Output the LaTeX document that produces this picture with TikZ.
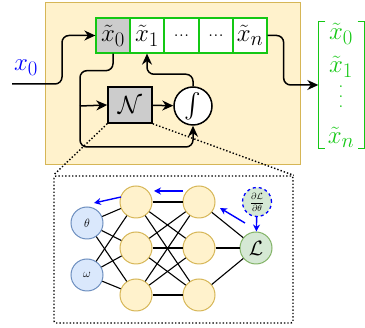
\documentclass[tikz,border=0pt]{standalone}
\usepackage{amsmath}
\usepackage{amssymb}
\usetikzlibrary{arrows.meta}
\definecolor{boxfill}{RGB}{255,242,204}
\definecolor{boxline}{RGB}{214,182,86}
\definecolor{inblue}{RGB}{218,232,252}
\definecolor{inblueline}{RGB}{108,142,191}
\definecolor{lossfill}{RGB}{213,232,212}
\definecolor{lossline}{RGB}{130,179,102}
\definecolor{cellgreen}{RGB}{20,200,20}
\newcommand{\tallvdots}{\vbox{\baselineskip=10pt\lineskiplimit=0pt\hbox{.}\hbox{.}\hbox{.}}}
\tikzset{
  cell/.style={draw=cellgreen, line width=1.3pt, fill=white, minimum width=34pt,
    minimum height=35pt, inner sep=0pt, font=\Huge},
  flow/.style={line width=1.5pt, -{Stealth[length=11pt,width=10pt]}, rounded corners=7pt},
  neuron/.style={circle, draw=boxline, fill=boxfill, line width=1pt, minimum size=32pt, inner sep=0pt},
  inneuron/.style={neuron, draw=inblueline, fill=inblue, font=\large},
  grad/.style={blue, line width=1.4pt, -{Stealth[length=7pt,width=7pt]}},
  wire/.style={line width=1.1pt},
  vecentry/.style={text=cellgreen, font=\Huge, inner sep=0pt}
}
\begin{document}
\begin{tikzpicture}[x=1pt,y=-1pt]
\useasboundingbox (0,0) rectangle (365,328);
% solver block
\node[draw=boxline, fill=boxfill, line width=1pt, minimum width=255pt, minimum height=162pt] (solver) at (173,84) {};
\node[cell, fill=black!20] (c0) at (113,35.5) {$\tilde{x}_0$};
\node[cell] (c1) at (147,35.5) {$\tilde{x}_1$};
\node[cell, font=\huge] (c2) at (181.5,35.5) {...};
\node[cell, font=\huge] (c3) at (216,35.5) {...};
\node[cell] (cn) at (250,35.5) {$\tilde{x}_n$};
\node[draw, fill=black!20, line width=1.5pt, minimum width=44pt, minimum height=36pt, font=\Huge] (nn) at (130,105) {$\mathcal{N}$};
\node[circle, draw, fill=white, line width=1.5pt, minimum size=38pt, inner sep=0pt, font=\Huge] (integ) at (193,106) {$\int$};
\coordinate (xin) at (12,84);
\node[blue, font=\Huge] (x0lab) at (26,68) {$x_0$};
\coordinate (split) at (80,106);
\coordinate (loop) at (80,147);
% output vector
\node[minimum width=46pt, minimum height=126pt, inner sep=0pt] (vec) at (341.5,85) {};
\draw[cellgreen, line width=1.3pt] ([xshift=7pt]vec.north west) -- (vec.north west) -- (vec.south west) -- ([xshift=7pt]vec.south west);
\draw[cellgreen, line width=1.3pt] ([xshift=-7pt]vec.north east) -- (vec.north east) -- (vec.south east) -- ([xshift=-7pt]vec.south east);
\node[vecentry] (v0) at (341,34) {$\tilde{x}_0$};
\node[vecentry] (v1) at (341,67) {$\tilde{x}_1$};
\node[vecentry, font=\huge] (vd) at (341,97) {\tallvdots};
\node[vecentry] (vn) at (341,137) {$\tilde{x}_n$};
% connectors
\draw[flow] (xin) -- ++(50,0) |- (c0.west);
\draw[flow] (c0.south) -- ++(0,17) -| (loop) -| (integ.south);
\draw[flow] (split) -- (nn.west);
\draw[flow] (nn) -- (integ);
\draw[flow] (integ.north) -- ++(0,-12) -| (c1.south);
\draw[flow] (cn.east) -- ++(16,0) |- (vec.west);
% zoom into the network
\node[draw, dotted, line width=1.4pt, minimum width=239pt, minimum height=147pt, rounded corners=2pt] (zoom) at (173.5,249.5) {};
\draw[dotted, line width=1.4pt] (nn.south west) -- (zoom.north west);
\draw[dotted, line width=1.4pt] (nn.south east) -- (zoom.north east);
\node[inneuron] (th) at (87,223) {$\theta$};
\node[inneuron] (om) at (87,275) {$\omega$};
\node[neuron] (ha) at (136,202) {};
\node[neuron] (hb) at (136,248) {};
\node[neuron] (hc) at (136,295) {};
\node[neuron] (ga) at (199,202) {};
\node[neuron] (gb) at (199,248) {};
\node[neuron] (gc) at (199,295) {};
\node[neuron, draw=lossline, fill=lossfill, font=\huge] (loss) at (256,248) {$\mathcal{L}$};
\node[circle, draw=blue, dashed, fill=lossfill, line width=1.3pt, minimum size=29pt, inner sep=0pt, font=\small] (dl) at (257,202) {$\dfrac{\partial\mathcal{L}}{\partial\theta}$};
\foreach \i in {th,om}
  \foreach \j in {ha,hb,hc}
    \draw[wire] (\i) -- (\j);
\foreach \i in {ha,hb,hc}
  \foreach \j in {ga,gb,gc}
    \draw[wire] (\i) -- (\j);
\foreach \i in {ga,gb,gc}
  \draw[wire] (\i) -- (loss);
% gradient flow
\coordinate (g1a) at (245,223);
\coordinate (g1b) at (220,208);
\coordinate (g2a) at (183,191);
\coordinate (g2b) at (154,191);
\coordinate (g3a) at (121,197);
\coordinate (g3b) at (94,203);
\draw[grad] (dl) -- (loss);
\draw[grad] (g1a) -- (g1b);
\draw[grad] (g2a) -- (g2b);
\draw[grad] (g3a) -- (g3b);
\end{tikzpicture}
\end{document}
